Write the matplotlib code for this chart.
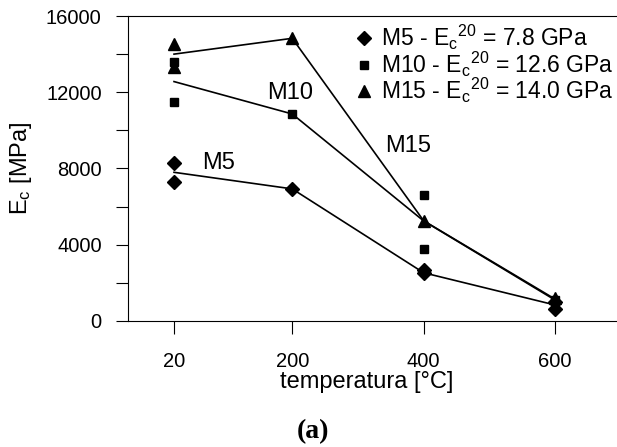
import matplotlib.pyplot as plt

plt.rcParams['font.family'] = ['Liberation Sans', 'DejaVu Sans']
plt.rcParams['mathtext.fontset'] = 'custom'
plt.rcParams['mathtext.rm'] = 'Liberation Sans'
plt.rcParams['mathtext.it'] = 'Liberation Sans'

# temperature levels [°C]
temps = [20, 200, 400, 600]

# individual measurements (temperature, E_c in MPa)
m5_t = [20, 20, 200, 400, 400, 600, 600]
m5_e = [8300, 7300, 6930, 2700, 2500, 1000, 620]
m10_t = [20, 20, 200, 400, 400, 600]
m10_e = [13600, 11470, 10860, 6610, 3780, 1100]
m15_t = [20, 20, 200, 400, 600]
m15_e = [14530, 13350, 14830, 5260, 1200]

# mean curves
m5_mean = [7800, 6930, 2530, 840]
m10_mean = [12560, 10860, 5250, 1100]
m15_mean = [14000, 14830, 5260, 1150]

fig = plt.figure(figsize=(6.17, 4.47), dpi=100)
ax = fig.add_axes([0.2075, 0.2819, 0.7985, 0.6823])

ax.plot(temps, m5_mean, color='black', lw=1.2)
ax.plot(temps, m10_mean, color='black', lw=1.2)
ax.plot(temps, m15_mean, color='black', lw=1.2)

h5, = ax.plot(m5_t, m5_e, 'D', color='black', ms=7, ls='none',
              label=r'M5 - E$_\mathregular{c}$$^\mathregular{20}$ = 7.8 GPa')
h10, = ax.plot(m10_t, m10_e, 's', color='black', ms=6.3, ls='none',
               label=r'M10 - E$_\mathregular{c}$$^\mathregular{20}$ = 12.6 GPa')
h15, = ax.plot(m15_t, m15_e, '^', color='black', ms=8, ls='none',
               label=r'M15 - E$_\mathregular{c}$$^\mathregular{20}$ = 14.0 GPa')

ax.text(88, 8290, 'M5', fontsize=17, ha='center', va='center')
ax.text(197, 11960, 'M10', fontsize=17, ha='center', va='center')
ax.text(376, 9180, 'M15', fontsize=17, ha='center', va='center')

ax.set_xlim(-50, 700)
ax.set_ylim(0, 16000)
ax.set_xticks(temps)
ax.set_yticks([0, 4000, 8000, 12000, 16000])
ax.set_yticks([2000, 6000, 10000, 14000], minor=True)
ax.tick_params(axis='both', which='both', direction='out', length=9,
               width=0.8, labelsize=14.5)
ax.tick_params(axis='x', pad=13)
ax.tick_params(axis='y', pad=10)

for side in ['left', 'bottom', 'top']:
    ax.spines[side].set_linewidth(0.8)
ax.spines['right'].set_visible(False)

ax.set_xlabel('temperatura [°C]', fontsize=17)
ax.xaxis.set_label_coords(0.485, -0.165)
ax.set_ylabel(r'E$_\mathregular{c}$ [MPa]', fontsize=17)
ax.yaxis.set_label_coords(-0.19, 0.5)

ax.legend(handles=[h5, h10, h15], loc='upper left', bbox_to_anchor=(0.46, 0.978),
          frameon=False, fontsize=16.5, handlelength=0.8, handletextpad=0.35,
          labelspacing=-0.1, borderpad=0, borderaxespad=0)

fig.text(0.507, 0.034, '(a)', fontsize=20, fontweight='bold',
         family='Liberation Serif', ha='center', va='center')

fig.savefig('out.png', dpi=100)
